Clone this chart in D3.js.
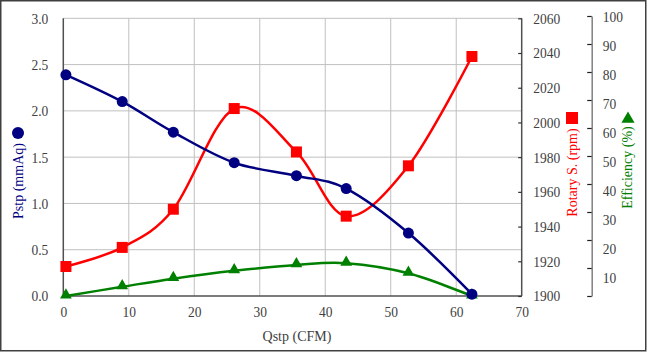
<!DOCTYPE html>
<html><head><meta charset="utf-8">
<script src="https://cdn.jsdelivr.net/npm/d3@7"></script>
<style>
body{margin:0;background:#fff;}
svg{display:block;font-family:"Liberation Serif","Times New Roman",serif;}
</style></head>
<body><svg id="c" width="647" height="356"></svg>
<script>
// ---- data ----
const qstp = [0.4, 9.0, 16.8, 26.1, 35.6, 43.2, 52.7, 62.4];
const pstp = [2.39, 2.10, 1.77, 1.44, 1.30, 1.16, 0.68, 0.02];
const rpm  = [1917, 1928, 1950, 2008, 1983, 1946, 1975, 2038];
const eff  = [0, 3.3, 6.2, 9.0, 11.1, 11.7, 8.1, 0];
const xTicks = [0, 10, 20, 30, 40, 50, 60, 70];
const pTicks = [0, 0.5, 1.0, 1.5, 2.0, 2.5, 3.0];
const rTicks = [1900, 1920, 1940, 1960, 1980, 2000, 2020, 2040, 2060];
const eTicks = [0, 10, 20, 30, 40, 50, 60, 70, 80, 90, 100];
const eLabels = [10, 20, 30, 40, 50, 60, 70, 80, 90, 100];

const svg = d3.select("#c");
const L = 63.3, R = 521.7, T = 18.3, B = 296;
const x = d3.scaleLinear().domain([0, 70]).range([L, R]);
const yP = d3.scaleLinear().domain([0, 3]).range([B, T]);
const yR = d3.scaleLinear().domain([1900, 2060]).range([B, T]);
const yE = d3.scaleLinear().domain([0, 100]).range([B, 16]);
const yELab = d3.scaleLinear().domain([10, 100]).range([278, 16.5]);

const txt = "#404040";
// outer border
svg.append("rect").attr("x", 0.75).attr("y", 0.75).attr("width", 645).attr("height", 350)
  .attr("fill", "none").attr("stroke", "#404040").attr("stroke-width", 1.5);

// grid
const g = svg.append("g");
g.selectAll(".vg").data(xTicks.slice(1, -1)).join("line")
  .attr("x1", d => x(d)).attr("x2", d => x(d)).attr("y1", T).attr("y2", B)
  .attr("stroke", "#c0c0c0").attr("stroke-width", 1);
g.selectAll(".hg").data(pTicks.slice(1)).join("line")
  .attr("x1", L).attr("x2", R).attr("y1", d => yP(d)).attr("y2", d => yP(d))
  .attr("stroke", "#c0c0c0").attr("stroke-width", 1);

// frame axes
svg.append("line").attr("x1", L).attr("x2", L).attr("y1", T).attr("y2", B).attr("stroke", "#505050").attr("stroke-width", 1.5);
svg.append("line").attr("x1", L).attr("x2", R).attr("y1", B).attr("y2", B).attr("stroke", "#505050").attr("stroke-width", 1.5);
svg.append("line").attr("x1", R).attr("x2", R).attr("y1", T).attr("y2", B).attr("stroke", "#505050").attr("stroke-width", 1.5);

// left axis labels
const axL = svg.append("g").attr("transform", `translate(${L},0)`)
  .call(d3.axisLeft(yP).tickValues(pTicks).tickSize(0).tickPadding(15).tickFormat(d3.format(".1f")));
// bottom axis labels
const axB = svg.append("g").attr("transform", `translate(0,${B})`)
  .call(d3.axisBottom(x).tickValues(xTicks).tickSize(0).tickPadding(10).tickFormat(d3.format("d")));
// rpm axis
const axR = svg.append("g").attr("transform", `translate(${R},0)`)
  .call(d3.axisRight(yR).tickValues(rTicks).tickSizeInner(-3.5).tickSizeOuter(0).tickPadding(11.5).tickFormat(d3.format("d")));
// efficiency axis ticks
const EX = 591.7;
const axE = svg.append("g").attr("transform", `translate(${EX},0)`)
  .call(d3.axisRight(yE).tickValues(eTicks).tickSizeInner(-4.5).tickSizeOuter(0).tickFormat(""));
const axEL = svg.append("g").attr("transform", `translate(${EX},0)`)
  .call(d3.axisRight(yELab).tickValues(eLabels).tickSize(0).tickPadding(11).tickFormat(d3.format("d")));

[axL, axB, axR, axE, axEL].forEach(a => {
  a.attr("font-family", '"Liberation Serif",serif');
  a.selectAll("text").attr("fill", txt).attr("font-size", 15.5)
    .each(function () {
      const w = this.getComputedTextLength();
      if (w > 0) d3.select(this).attr("textLength", w * 0.87).attr("lengthAdjust", "spacingAndGlyphs");
    });
});
[axL, axB, axEL].forEach(a => a.select(".domain").remove());
axR.select(".domain").remove();
axR.selectAll(".tick line").attr("stroke", "#303030").attr("stroke-width", 1.2);
axE.select(".domain").attr("stroke", "#808080").attr("stroke-width", 1.5);
axE.selectAll(".tick line").attr("stroke", "#202020").attr("stroke-width", 1.2);
axEL.selectAll(".tick line").remove();

// lines
const curve = d3.curveCardinal.tension(0);
const idx = d3.range(qstp.length);
function series(yScale, vals, color) {
  const line = d3.line().x(i => x(qstp[i])).y(i => yScale(vals[i])).curve(curve);
  svg.append("path").attr("d", line(idx)).attr("fill", "none")
    .attr("stroke", color).attr("stroke-width", 2.5);
}
series(yE, eff, "#008000");
series(yR, rpm, "#ff0000");
series(yP, pstp, "#000080");

// markers
svg.selectAll(".tri").data(idx).join("path")
  .attr("d", d3.symbol().type(d3.symbolTriangle).size(60)())
  .attr("transform", i => `translate(${x(qstp[i])},${yE(eff[i]) - 1})`)
  .attr("fill", "#008000");
svg.selectAll(".sq").data(idx).join("rect")
  .attr("x", i => x(qstp[i]) - 5.5).attr("y", i => yR(rpm[i]) - 5.5)
  .attr("width", 11).attr("height", 11).attr("fill", "#ff0000");
svg.selectAll(".ci").data(idx).join("circle")
  .attr("cx", i => x(qstp[i])).attr("cy", i => yP(pstp[i])).attr("r", 5.5)
  .attr("fill", "#000080");

// titles
svg.append("text").attr("x", 297).attr("y", 341).attr("text-anchor", "middle")
  .attr("font-size", 14).attr("fill", txt).text("Qstp (CFM)");

svg.append("text").attr("transform", "translate(18,181) rotate(-90)").attr("dy", "0.35em")
  .attr("text-anchor", "middle").attr("font-size", 14).attr("fill", "#000080").text("Pstp (mmAq)");
svg.append("circle").attr("cx", 18).attr("cy", 133).attr("r", 6).attr("fill", "#000080");

svg.append("text").attr("transform", "translate(572,172.5) rotate(-90)").attr("dy", "0.35em")
  .attr("text-anchor", "middle").attr("font-size", 14).attr("fill", "#ff0000").text("Rotary S. (rpm)");
svg.append("rect").attr("x", 566).attr("y", 112).attr("width", 12).attr("height", 12).attr("fill", "#ff0000");

svg.append("text").attr("transform", "translate(627,167.5) rotate(-90)").attr("dy", "0.35em")
  .attr("text-anchor", "middle").attr("font-size", 14).attr("fill", "#008000").text("Efficiency (%)");
svg.append("path").attr("d", d3.symbol().type(d3.symbolTriangle).size(75)())
  .attr("transform", "translate(628,119)").attr("fill", "#008000");
</script></body></html>
